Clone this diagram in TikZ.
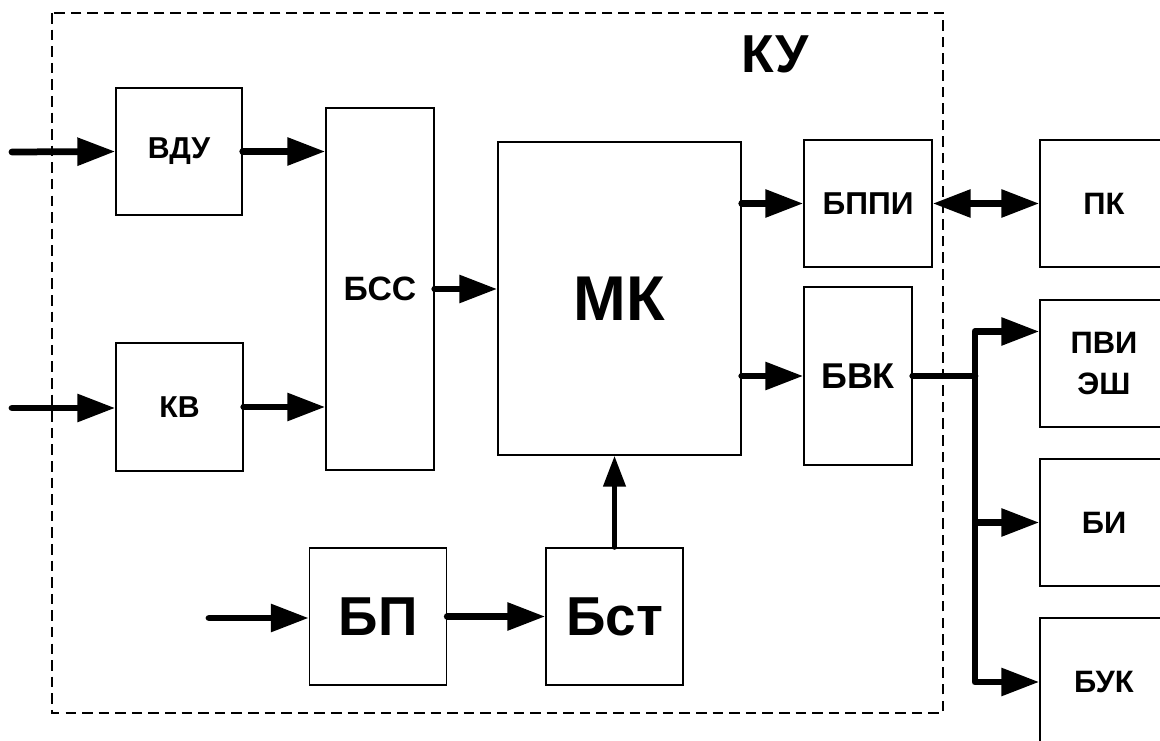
\documentclass[tikz,border=0pt]{standalone}
\usepackage{fontspec}
\setmainfont{Liberation Sans}
\usetikzlibrary{arrows.meta}

\tikzset{
  blk/.style={draw, line width=1pt, inner sep=0pt, align=center},
  sig/.style={line width=4.8pt, line cap=round, line join=round,
    -{Triangle[length=27pt,width=19pt]}},
  sigsmall/.style={line width=3.6pt, line cap=round,
    -{Triangle[length=22pt,width=15.5pt]}},
  frame/.style={line width=1.1pt, dash pattern=on 7.5pt off 4.3pt},
}
\newcommand{\bfs}[1]{\fontsize{#1}{1.27\dimexpr#1pt\relax}\selectfont\bfseries}

\begin{document}
\begin{tikzpicture}[x=0.025cm,y=-0.025cm]
\useasboundingbox (0,0) rectangle (1160,741);
% border of the unit
\draw[frame] (52,13) rectangle (943,713);
\node[font=\bfs{38}] (ku) at (775,54) {КУ};
% blocks
\node[blk, minimum width=3.15cm, minimum height=3.175cm, font=\bfs{21.5}] (vdu) at (179,151.5) {ВДУ};
\node[blk, minimum width=3.175cm, minimum height=3.2cm, font=\bfs{21.5}] (kv) at (179.5,407) {КВ};
\node[blk, minimum width=2.7cm, minimum height=9.05cm, font=\bfs{24}] (bss) at (380,289) {БСС};
\node[blk, minimum width=6.075cm, minimum height=7.825cm, font=\bfs{45}] (mk) at (619.5,298.5) {МК};
\node[blk, minimum width=3.2cm, minimum height=3.175cm, font=\bfs{22.5}] (bppi) at (868,203.5) {БППИ};
\node[blk, minimum width=2.7cm, minimum height=4.45cm, font=\bfs{25.5}] (bvk) at (858,376) {БВК};
\node[blk, minimum width=3.425cm, minimum height=3.425cm, font=\bfs{39}] (bp) at (378,616.5) {БП};
\node[blk, minimum width=3.425cm, minimum height=3.425cm, font=\bfs{39}] (bst) at (614.5,616.5) {Бст};
% outside blocks
\node[blk, minimum width=3.2cm, minimum height=3.175cm, font=\bfs{22}] (pk) at (1104,203.5) {ПК};
\node[blk, minimum width=3.2cm, minimum height=3.175cm, font=\fontsize{22}{28.5}\selectfont\bfseries] (pvi) at (1104,363.5) {ПВИ\\ЭШ};
\node[blk, minimum width=3.2cm, minimum height=3.175cm, font=\bfs{22}] (bi) at (1104,522.5) {БИ};
\node[blk, minimum width=3.2cm, minimum height=3.2cm, font=\bfs{22}] (buk) at (1104,682) {БУК};
% free ends
\coordinate (in1) at (12,152);
\coordinate (in2) at (12,408);
\coordinate (in3) at (209,618);
\coordinate (bj) at (975,376);
% connections
\draw[sig] (in1) -- (vdu.west);
\draw[sig] (in2) -- (in2 -| kv.west);
\draw[sig] (vdu.east) -- (vdu.east -| bss.west);
\draw[sig] (kv.east) -- (kv.east -| bss.west);
\draw[sig] (bss.east) -- (bss.east -| mk.west);
\draw[sig] (mk.east |- bppi.west) -- (bppi.west);
\draw[sig] (mk.east |- bvk.west) -- (bvk.west);
\draw[sig, {Triangle[length=27pt,width=19pt]}-{Triangle[length=27pt,width=19pt]}] (bppi.east) -- (pk.west);
\draw[sig] (in3) -- (in3 -| bp.west);
\draw[sig] (bp.east) -- (bst.west);
\draw[sigsmall] (bst.north) -- (bst.north |- mk.south);
% bus to outside blocks
\draw[line width=4.8pt, line cap=round] (bvk.east) -- (bj);
\draw[sig] (bj) |- ([yshift=0.8cm]pvi.west);
\draw[sig] (bj) |- (bi.west);
\draw[sig] (bj) |- (buk.west);
\end{tikzpicture}
\end{document}
